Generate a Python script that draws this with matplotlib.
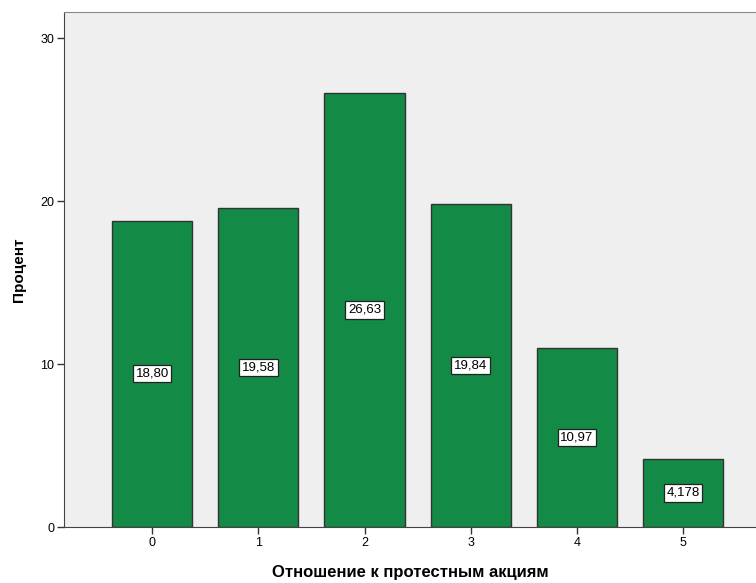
import matplotlib
matplotlib.use("Agg")
import matplotlib.pyplot as plt

plt.rcParams['font.family'] = ['Liberation Sans', 'DejaVu Sans']

categories = ["0", "1", "2", "3", "4", "5"]
values = [18.80, 19.58, 26.63, 19.84, 10.97, 4.178]
labels = ["18,80", "19,58", "26,63", "19,84", "10,97", "4,178"]
yticks = [0, 10, 20, 30]

fig = plt.figure(figsize=(7.56, 5.83), dpi=100)
ax = fig.add_axes([64/756, 56/583, 1 - 64/756 + 0.002, (527-12)/583])
ax.set_facecolor('#EFEFEF')

x = list(range(len(categories)))
ax.bar(x, values, width=0.755, color='#138A45', edgecolor='#333333', linewidth=1.0, zorder=2)
for xi, v, lab in zip(x, values, labels):
    ax.text(xi, v/2, lab, ha='center', va='center', fontsize=9.5, zorder=3,
            bbox=dict(boxstyle='square,pad=0.2', facecolor='white', edgecolor='#222222', linewidth=0.9))

ax.set_xlim(-0.83, 5.70)
ax.set_ylim(0, 31.6)
ax.set_xticks(x)
ax.set_xticklabels(categories)
ax.set_yticks(yticks)
ax.set_yticklabels([str(t) for t in yticks])
ax.tick_params(axis='both', labelsize=9, length=5, width=1, color='#333333', direction='out', pad=2)

ax.spines['right'].set_visible(False)
ax.spines['top'].set_color('#888888')
ax.spines['left'].set_color('#444444')
ax.spines['bottom'].set_color('#444444')

ax.set_ylabel('Процент', fontsize=11, fontweight='bold', labelpad=10)
ax.set_xlabel('Отношение к протестным акциям', fontsize=12, fontweight='bold', labelpad=12)

fig.savefig('out.png', dpi=100)
